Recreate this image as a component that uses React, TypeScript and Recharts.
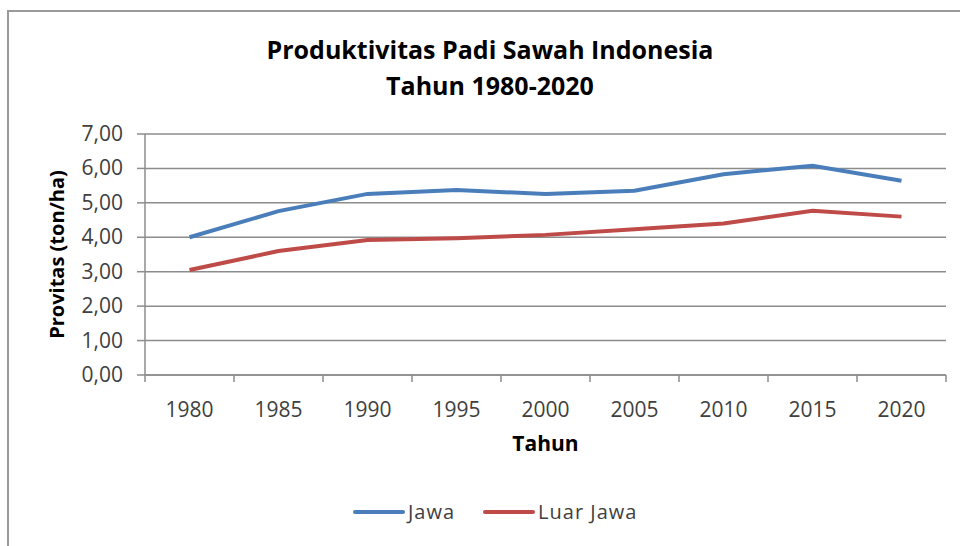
import { LineChart, Line, XAxis, YAxis, CartesianGrid } from "recharts";

const years = ["1980", "1985", "1990", "1995", "2000", "2005", "2010", "2015", "2020"];
const jawa = [4.0, 4.76, 5.26, 5.37, 5.26, 5.35, 5.83, 6.08, 5.64];
const luarJawa = [3.05, 3.6, 3.92, 3.97, 4.07, 4.23, 4.4, 4.77, 4.6];
const yTicks = [0, 1, 2, 3, 4, 5, 6, 7];
const seriesNames = ["Jawa", "Luar Jawa"];
const seriesColors = ["#4a7ebb", "#be4b48"];

const data = years.map((year, i) => ({
  year,
  Jawa: jawa[i],
  "Luar Jawa": luarJawa[i],
}));

const FONT = "'Open Sans', sans-serif";
const AXIS = "#8c8c8c";
const PLOT_W = 960 - 145 - 14;
const HALF_BAND = PLOT_W / years.length / 2;

const fmt = (v: number) => v.toFixed(2).replace(".", ",");

// Excel puts the category tick marks between the categories
const XTick = (props: any) => {
  const { x, y, payload, index } = props;
  return (
    <g>
      <line x1={x - HALF_BAND} y1={y} x2={x - HALF_BAND} y2={y + 7} stroke={AXIS} strokeWidth={1.5} />
      {index === years.length - 1 && (
        <line x1={x + HALF_BAND} y1={y} x2={x + HALF_BAND} y2={y + 7} stroke={AXIS} strokeWidth={1.5} />
      )}
      <text x={x} y={y + 42} textAnchor="middle" fontFamily={FONT} fontSize={21} fill="#404040">
        {payload.value}
      </text>
    </g>
  );
};

const YTick = (props: any) => {
  const { x, y, payload } = props;
  return (
    <text x={x} y={y + 7} textAnchor="end" fontFamily={FONT} fontSize={21} fill="#404040">
      {fmt(payload.value)}
    </text>
  );
};

export default function App() {
  return (
    <div
      style={{
        position: "absolute",
        left: 0,
        top: 0,
        width: 960,
        height: 546,
        overflow: "hidden",
        background: "#fff",
        fontFamily: FONT,
      }}
    >
      <div
        style={{
          position: "absolute",
          left: 7,
          top: 10,
          width: 1000,
          height: 600,
          borderLeft: "2px solid #9a9a9a",
          borderTop: "2px solid #9a9a9a",
        }}
      />
      <div
        style={{
          position: "absolute",
          left: 0,
          top: 31,
          width: 980,
          textAlign: "center",
          fontWeight: 700,
          fontSize: 25,
          lineHeight: "36px",
          color: "#000",
        }}
      >
        Produktivitas Padi Sawah Indonesia
        <br />
        Tahun 1980-2020
      </div>
      <div style={{ position: "absolute", left: 0, top: 0 }}>
        <LineChart
          width={960}
          height={546}
          data={data}
          margin={{ top: 134, right: 14, bottom: 81, left: 0 }}
        >
          <CartesianGrid vertical={false} stroke={AXIS} strokeWidth={1.5} />
          <XAxis
            dataKey="year"
            height={90}
            stroke={AXIS}
            strokeWidth={1.5}
            padding={{ left: HALF_BAND, right: HALF_BAND }}
            tickLine={false}
            tickSize={0}
            tickMargin={0}
            tick={<XTick />}
            interval={0}
            label={{
              value: "Tahun",
              position: "insideBottom",
              offset: 14,
              style: { fontFamily: FONT, fontSize: 21, fontWeight: 700, fill: "#000" },
            }}
          />
          <YAxis
            width={145}
            domain={[0, 7]}
            ticks={yTicks}
            stroke={AXIS}
            strokeWidth={1.5}
            tickSize={8}
            tickMargin={14}
            tick={<YTick />}
            label={{
              value: "Provitas (ton/ha)",
              angle: -90,
              position: "insideLeft",
              offset: 57,
              style: { fontFamily: FONT, fontSize: 20, fontWeight: 700, fill: "#000", textAnchor: "middle" },
            }}
          />
          {seriesNames.map((name, i) => (
            <Line
              key={name}
              type="linear"
              dataKey={name}
              stroke={seriesColors[i]}
              strokeWidth={4}
              dot={false}
              activeDot={false}
              isAnimationActive={false}
            />
          ))}
        </LineChart>
      </div>
      <div
        style={{
          position: "absolute",
          left: 353,
          top: 498,
          display: "flex",
          alignItems: "center",
          fontSize: 20,
          color: "#404040",
          letterSpacing: 1,
        }}
      >
        {seriesNames.map((name, i) => (
          <div key={name} style={{ display: "flex", alignItems: "center", marginRight: 28 }}>
            <div
              style={{
                width: 52,
                height: 4,
                borderRadius: 2,
                background: seriesColors[i],
                marginRight: 3,
              }}
            />
            <span>{name}</span>
          </div>
        ))}
      </div>
    </div>
  );
}
